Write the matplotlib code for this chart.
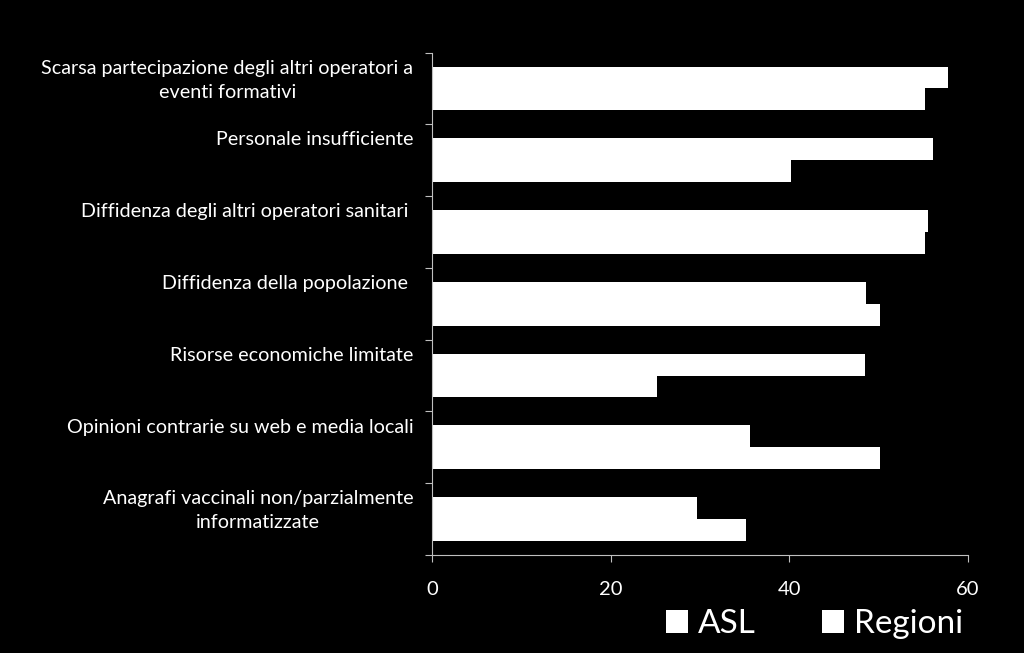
import numpy as np
import matplotlib.pyplot as plt

# dati
categorie = [
    "Scarsa partecipazione degli altri operatori a\neventi formativi",
    "Personale insufficiente",
    "Diffidenza degli altri operatori sanitari ",
    "Diffidenza della popolazione ",
    "Risorse economiche limitate",
    "Opinioni contrarie su web e media locali",
    "Anagrafi vaccinali non/parzialmente\ninformatizzate",
]
asl = [57.8, 56.1, 55.5, 48.6, 48.5, 35.6, 29.7]
regioni = [55.2, 40.2, 55.2, 50.2, 25.2, 50.2, 35.2]
xticks = [0, 20, 40, 60]

plt.rcParams['font.family'] = ['Lato', 'DejaVu Sans']

fig = plt.figure(figsize=(10.24, 6.53), dpi=100, facecolor='black')
ax = fig.add_axes([0.4219, 0.150, 0.5234, 0.7696], facecolor='black')

n = len(categorie)
y = np.arange(n) + 0.5
h = 0.305
ax.barh(y - h / 2, asl, height=h, color='white', label='ASL')
ax.barh(y + h / 2, regioni, height=h, color='white', label='Regioni')

ax.set_xlim(0, 60)
ax.set_ylim(n, 0)
ax.set_xticks(xticks)
ax.set_yticks(np.arange(n + 1))
ax.set_yticklabels([])

for s in ['top', 'right']:
    ax.spines[s].set_visible(False)
for s in ['left', 'bottom']:
    ax.spines[s].set_color('#bfbfbf')
ax.tick_params(axis='both', colors='#bfbfbf', length=5, direction='out')
ax.tick_params(axis='x', labelcolor='white', labelsize=14.5, pad=14)

# etichette delle categorie, allineate in alto
for i, lab in enumerate(categorie):
    ax.text(-2.1, i + 0.1, lab, color='white', fontsize=14.2,
            ha='right', va='top', multialignment='center', linespacing=1.5)

leg = fig.legend(loc='lower right', bbox_to_anchor=(0.97, -0.025), ncol=2,
                 frameon=False, fontsize=24, labelcolor='white',
                 handlelength=0.65, handleheight=0.65, handletextpad=0.3,
                 columnspacing=2.0)

fig.savefig('out.png', dpi=100, facecolor='black')
